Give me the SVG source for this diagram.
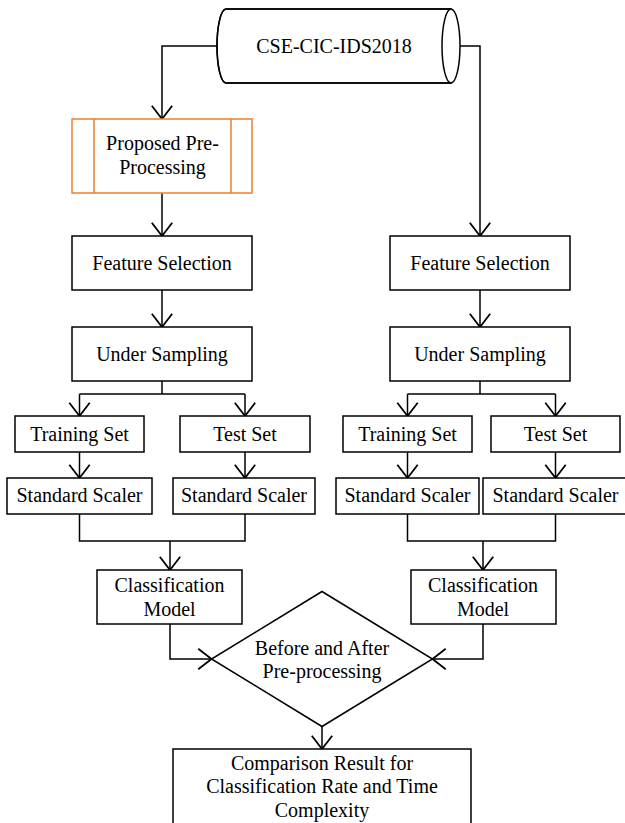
<svg xmlns="http://www.w3.org/2000/svg" width="625" height="823" viewBox="0 0 625 823" font-family="'Liberation Serif', 'Times New Roman', Times, 'DejaVu Serif', serif" font-size="20">
<defs>
<marker id="arr" markerUnits="userSpaceOnUse" markerWidth="24" markerHeight="24" viewBox="-14 -10 16 20" refX="0" refY="0" orient="auto" overflow="visible">
<path d="M-11,-8.5 L0,0 L-11,8.5" fill="none" stroke="#000" stroke-width="1.5"/>
</marker>
</defs>
<style>
.b{fill:#fff;stroke:#000;stroke-width:1.5}
.o{fill:#fff;stroke:#ED7D31;stroke-width:1.5}
.c{fill:none;stroke:#000;stroke-width:1.5}
text{font-family:'Liberation Serif','Times New Roman',Times,'DejaVu Serif',serif;font-size:20px;fill:#000;text-anchor:middle}
</style>
<rect width="625" height="823" fill="#fff"/>
<g id="connectors" class="c">
<path d="M217,46 H162 V119" marker-end="url(#arr)"/>
<path d="M460,46 H480 V236" marker-end="url(#arr)"/>
<path d="M162,193 V236" marker-end="url(#arr)"/>
<path d="M162,290 V327" marker-end="url(#arr)"/>
<path d="M480,290 V327" marker-end="url(#arr)"/>
<path d="M162,381 V394"/>
<path d="M79.5,394 H245"/>
<path d="M79.5,394 V416" marker-end="url(#arr)"/>
<path d="M245,394 V416" marker-end="url(#arr)"/>
<path d="M480,381 V394"/>
<path d="M407.5,394 H555.5"/>
<path d="M407.5,394 V416" marker-end="url(#arr)"/>
<path d="M555.5,394 V416" marker-end="url(#arr)"/>
<path d="M79.5,452 V478" marker-end="url(#arr)"/>
<path d="M245,452 V478" marker-end="url(#arr)"/>
<path d="M407.5,452 V478" marker-end="url(#arr)"/>
<path d="M555.5,452 V478" marker-end="url(#arr)"/>
<path d="M79.5,514 V541 H245 V514"/>
<path d="M170,541 V570" marker-end="url(#arr)"/>
<path d="M407.5,514 V541 H555.5 V514"/>
<path d="M483,541 V570" marker-end="url(#arr)"/>
<path d="M170,624 V659 H211.5" marker-end="url(#arr)"/>
<path d="M483,624 V659 H432.5" marker-end="url(#arr)"/>
<path d="M322,726.5 V749" marker-end="url(#arr)"/>
</g>
<g id="dataset">
<path class="b" d="M226,9 H451 V83 H226 A9,37 0 0 1 226,9 Z" stroke="none"/>
<path class="c" d="M226,9 H451 M226,83 H451 M226,83 A9,37 0 0 1 226,9"/>
<ellipse class="b" cx="451" cy="46" rx="9" ry="37"/>
<text x="334" y="53">CSE-CIC-IDS2018</text>
</g>
<g id="preprocessing">
<rect class="o" x="72" y="119" width="180" height="74"/>
<line class="o" x1="94" y1="119" x2="94" y2="193"/>
<line class="o" x1="231" y1="119" x2="231" y2="193"/>
<text x="162.5" y="150">Proposed Pre-</text>
<text x="162.5" y="174">Processing</text>
</g>
<g id="fs-left"><rect class="b" x="72" y="236" width="180" height="54"/><text x="162" y="269.5">Feature Selection</text></g>
<g id="us-left"><rect class="b" x="72" y="327" width="180" height="54"/><text x="162" y="360.5">Under Sampling</text></g>
<g id="fs-right"><rect class="b" x="390" y="236" width="180" height="54"/><text x="480" y="269.5">Feature Selection</text></g>
<g id="us-right"><rect class="b" x="390" y="327" width="180" height="54"/><text x="480" y="360.5">Under Sampling</text></g>
<g id="train-left"><rect class="b" x="15" y="416" width="129" height="36"/><text x="79.5" y="440.5">Training Set</text></g>
<g id="test-left"><rect class="b" x="180" y="416" width="130" height="36"/><text x="245" y="440.5">Test Set</text></g>
<g id="train-right"><rect class="b" x="343" y="416" width="129" height="36"/><text x="407.5" y="440.5">Training Set</text></g>
<g id="test-right"><rect class="b" x="491" y="416" width="129" height="36"/><text x="555.5" y="440.5">Test Set</text></g>
<g id="scaler-1"><rect class="b" x="7" y="478" width="145" height="36"/><text x="79.5" y="502">Standard Scaler</text></g>
<g id="scaler-2"><rect class="b" x="173" y="478" width="142" height="36"/><text x="244" y="502">Standard Scaler</text></g>
<g id="scaler-3"><rect class="b" x="336" y="478" width="143" height="36"/><text x="407.5" y="502">Standard Scaler</text></g>
<g id="scaler-4"><rect class="b" x="483" y="478" width="145" height="36"/><text x="555.5" y="502">Standard Scaler</text></g>
<g id="model-left"><rect class="b" x="97" y="570" width="145" height="54"/><text x="169.5" y="591.5">Classification</text><text x="169.5" y="616">Model</text></g>
<g id="model-right"><rect class="b" x="411" y="570" width="145" height="54"/><text x="483" y="591.5">Classification</text><text x="483" y="616">Model</text></g>
<g id="decision">
<polygon class="b" points="322,591.5 432.5,659 322,726.5 211.5,659"/>
<text x="322" y="655">Before and After</text>
<text x="322" y="678">Pre-processing</text>
</g>
<g id="result">
<rect class="b" x="173" y="749" width="298" height="90"/>
<text x="322" y="769.5">Comparison Result for</text>
<text x="322" y="793">Classification Rate and Time</text>
<text x="322" y="816.5">Complexity</text>
</g>
</svg>
